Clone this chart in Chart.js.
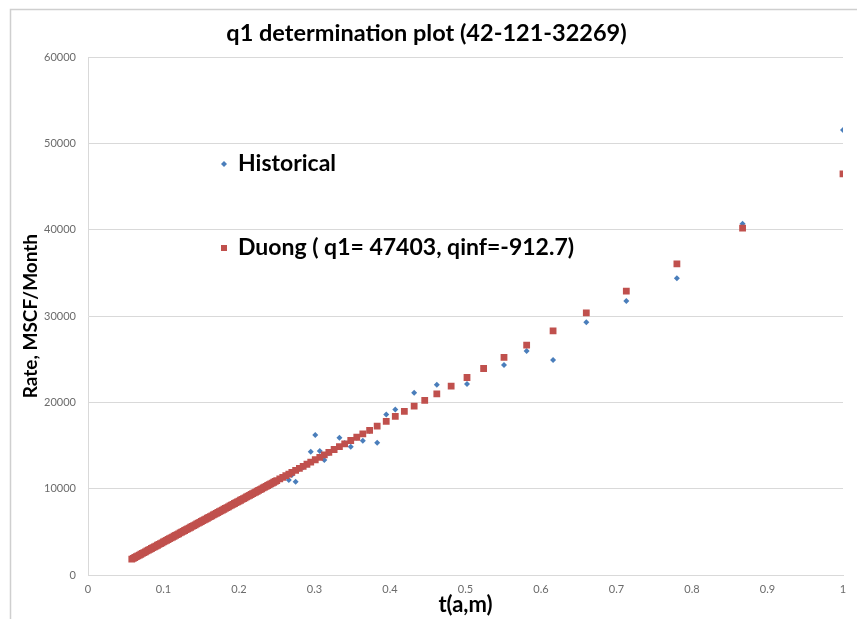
<!DOCTYPE html>
<html>
<head>
<meta charset="utf-8">
<script src="https://cdn.jsdelivr.net/npm/chart.js@4/dist/chart.umd.min.js"></script>
<style>
  html, body { margin: 0; padding: 0; background: #ffffff; overflow: hidden; }
  #wrap { width: 857px; height: 619px; position: relative; }
</style>
</head>
<body>
<div id="wrap"><canvas id="chart" width="857" height="619"></canvas></div>
<script>
// Duong time function t(a,m), one value per month (history, then forecast)
const tam = [
  1.000, 0.867, 0.780, 0.713, 0.660, 0.616, 0.581, 0.551, 0.524, 0.502,
  0.481, 0.462, 0.446, 0.432, 0.419, 0.407, 0.395, 0.383, 0.373, 0.364,
  0.356, 0.348, 0.340, 0.333, 0.326, 0.319, 0.313, 0.307, 0.301, 0.295,
  0.290, 0.285, 0.280, 0.275, 0.270, 0.266, 0.262, 0.258, 0.254, 0.250,
  0.248, 0.246, 0.244, 0.242, 0.240, 0.238, 0.236, 0.234, 0.232, 0.230,
  0.228, 0.226, 0.224, 0.222, 0.220, 0.218, 0.216, 0.214, 0.212, 0.210,
  0.208, 0.206, 0.204, 0.202, 0.200, 0.198, 0.196, 0.194, 0.192, 0.190,
  0.188, 0.186, 0.184, 0.182, 0.180, 0.178, 0.176, 0.174, 0.172, 0.170,
  0.168, 0.166, 0.164, 0.162, 0.160, 0.158, 0.156, 0.154, 0.152, 0.150,
  0.148, 0.146, 0.144, 0.142, 0.140, 0.138, 0.136, 0.134, 0.132, 0.130,
  0.128, 0.126, 0.124, 0.122, 0.120, 0.118, 0.116, 0.114, 0.112, 0.110,
  0.108, 0.106, 0.104, 0.102, 0.100, 0.098, 0.096, 0.094, 0.092, 0.090,
  0.088, 0.086, 0.084, 0.082, 0.080, 0.078, 0.076, 0.074, 0.072, 0.070,
  0.068, 0.066, 0.064, 0.062, 0.060, 0.058
];

// Measured monthly gas rate, MSCF/Month (first 40 months of tam)
const historicalRate = [
  51550, 40700, 34400, 31740, 29300, 24900, 25950, 24330, 23900, 22120,
  21900, 22040, 20250, 21110, 19000, 19190, 18610, 15330, 16700, 15560,
  15900, 14860, 15300, 15900, 14500, 14100, 13320, 14360, 16220, 14280,
  12800, 12500, 12300, 10800, 11600, 11000, 11400, 11300, 11100, 10900
];

// Duong model rate q = q1 * t(a,m) + qinf, q1 = 47403, qinf = -912.7
const duongRate = [
  46490, 40186, 36062, 32886, 30373, 28288, 26628, 25206, 23927, 22884,
  21888, 20988, 20229, 19565, 18949, 18380, 17812, 17243, 16769, 16342,
  15963, 15584, 15204, 14873, 14541, 14209, 13924, 13640, 13356, 13071,
  12834, 12597, 12360, 12123, 11886, 11696, 11507, 11317, 11128, 10938,
  10843, 10748, 10654, 10559, 10464, 10369, 10274, 10180, 10085,  9990,
   9895,  9800,  9706,  9611,  9516,  9421,  9326,  9232,  9137,  9042,
   8947,  8852,  8758,  8663,  8568,  8473,  8378,  8283,  8189,  8094,
   7999,  7904,  7809,  7715,  7620,  7525,  7430,  7335,  7241,  7146,
   7051,  6956,  6861,  6767,  6672,  6577,  6482,  6387,  6293,  6198,
   6103,  6008,  5913,  5819,  5724,  5629,  5534,  5439,  5345,  5250,
   5155,  5060,  4965,  4870,  4776,  4681,  4586,  4491,  4396,  4302,
   4207,  4112,  4017,  3922,  3828,  3733,  3638,  3543,  3448,  3354,
   3259,  3164,  3069,  2974,  2880,  2785,  2690,  2595,  2500,  2406,
   2311,  2216,  2121,  2026,  1931,  1837
];

const seriesNames = ['Historical', 'Duong ( q1= 47403, qinf=-912.7)'];
const chartTitle = 'q1 determination plot (42-121-32269)';
const xTitle = 't(a,m)';
const yTitle = 'Rate, MSCF/Month';

const BLUE = '#4a7ebb';
const RED = '#c0504d';
const GRID = '#d9d9d9';
const TICK = '#6b6b6b';
const FONT = 'Lato, "Liberation Sans", sans-serif';

// Outer chart frame: top and left edges only
const framePlugin = {
  id: 'frame',
  beforeDraw(chart) {
    const ctx = chart.ctx;
    ctx.save();
    ctx.fillStyle = '#ffffff';
    ctx.fillRect(0, 0, chart.width, chart.height);
    ctx.strokeStyle = '#cfcfcf';
    ctx.lineWidth = 1.5;
    ctx.beginPath();
    ctx.moveTo(chart.width, 9.5);
    ctx.lineTo(10.5, 9.5);
    ctx.lineTo(10.5, chart.height);
    ctx.stroke();
    ctx.restore();
  }
};

// Legend entries placed inside the plot area
const insideLegend = {
  id: 'insideLegend',
  afterDraw(chart) {
    const ctx = chart.ctx;
    const rowY = [164, 248];
    ctx.save();
    ctx.font = 'bold 23px ' + FONT;
    ctx.textBaseline = 'middle';
    ctx.textAlign = 'left';
    chart.data.datasets.forEach((ds, i) => {
      const y = rowY[i];
      const x = 224;
      ctx.fillStyle = ds.pointBackgroundColor;
      ctx.beginPath();
      if (ds.pointStyle === 'rectRot') {
        const r = 3;
        ctx.moveTo(x - r, y); ctx.lineTo(x, y - r); ctx.lineTo(x + r, y); ctx.lineTo(x, y + r);
        ctx.closePath();
      } else {
        ctx.rect(x - 3, y - 3, 6, 6);
      }
      ctx.fill();
      ctx.fillStyle = '#000000';
      ctx.fillText(ds.label, 238, y);
    });
    ctx.restore();
  }
};

const historicalPoints = historicalRate.map((q, i) => ({ x: tam[i], y: q }));
const duongPoints = duongRate.map((q, i) => ({ x: tam[i], y: q }));

new Chart(document.getElementById('chart'), {
  type: 'scatter',
  data: {
    datasets: [
      {
        label: seriesNames[0],
        data: historicalPoints,
        pointStyle: 'rectRot',
        pointRadius: 3,
        pointBorderWidth: 0,
        pointBackgroundColor: BLUE,
        pointBorderColor: BLUE,
        order: 1
      },
      {
        label: seriesNames[1],
        data: duongPoints,
        pointStyle: 'rect',
        pointRadius: 4.8,
        pointBorderWidth: 0,
        pointBackgroundColor: RED,
        pointBorderColor: RED,
        order: 0
      }
    ]
  },
  options: {
    responsive: false,
    animation: false,
    events: [],
    layout: { padding: { left: 10, right: 14, top: 12, bottom: 0 } },
    plugins: {
      legend: { display: false },
      tooltip: { enabled: false },
      title: {
        display: true,
        text: chartTitle,
        color: '#000000',
        font: { family: FONT, size: 23.5, weight: 'bold', lineHeight: 1.2 },
        padding: { top: 7, bottom: 10 }
      }
    },
    scales: {
      x: {
        type: 'linear',
        min: 0,
        max: 1,
        ticks: {
          stepSize: 0.1,
          color: TICK,
          padding: 8,
          font: { family: FONT, size: 11 },
          callback: (v) => String(Math.round(v * 10) / 10)
        },
        grid: { display: false, drawTicks: false },
        border: { display: true, color: GRID, width: 1 },
        title: {
          display: true,
          text: xTitle,
          color: '#000000',
          font: { family: FONT, size: 22, weight: 'bold', lineHeight: 1.2 },
          padding: { top: 0, bottom: 1 }
        },
        afterFit(scale) { scale.height = 44; }
      },
      y: {
        type: 'linear',
        min: 0,
        max: 60000,
        ticks: {
          stepSize: 10000,
          color: TICK,
          padding: 12,
          font: { family: FONT, size: 11 },
          callback: (v) => String(v)
        },
        grid: { color: GRID, lineWidth: 1, drawTicks: false },
        border: { display: true, color: GRID, width: 1 },
        title: {
          display: true,
          text: yTitle,
          color: '#000000',
          font: { family: FONT, size: 19, weight: 'bold', lineHeight: 1.2 },
          padding: { top: 9, bottom: 0 }
        },
        afterFit(scale) { scale.width = 78; }
      }
    }
  },
  plugins: [framePlugin, insideLegend]
});
</script>
</body>
</html>
